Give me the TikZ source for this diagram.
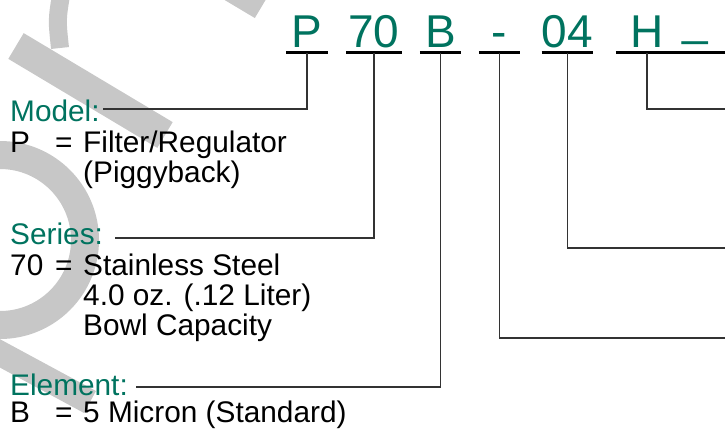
\documentclass[tikz,border=0pt]{standalone}
\usepackage{fontspec}
\setmainfont{Liberation Sans}
\usepackage{xcolor}
\definecolor{codegreen}{RGB}{0,115,95}

\begin{document}
\begin{tikzpicture}[x=1pt, y=-1pt,
    code/.style={text=codegreen, font=\fontsize{46}{46}\selectfont, anchor=base, text depth=0pt, inner xsep=0pt, inner ysep=5.3pt},
    head/.style={text=codegreen, font=\fontsize{29.8}{30}\selectfont, anchor=base west, inner sep=0pt},
    body/.style={font=\fontsize{29.8}{29.6}\selectfont, anchor=base west, inner sep=0pt},
    under/.style={line width=3.3pt},
    lead/.style={line width=1.1pt, draw=black!80},
    wm/.style={draw=black!22, line width=28pt}]
    \useasboundingbox (0,0) rectangle (725,429);

    % Watermark strokes
    \draw[wm] (0,240) circle[radius=85];
    \draw[wm, line width=30pt] (16,46) -- (165,135);
    \draw[wm, line width=18pt] (61,-5) .. controls (57,20) .. (60,48);
    \draw[wm] (210,-25) -- (262,6);
    \draw[wm, line width=25pt] (-10,348) -- (90,402);

    % Model code
    \node[code, minimum width=40.7pt] (cP)  at (307,47)   {P};
    \node[code, minimum width=55pt]   (c70) at (374,47)   {70};
    \node[code, minimum width=40.7pt] (cB)  at (440.5,47) {B};
    \node[code, minimum width=40.7pt] (cD)  at (499.5,47) {-};
    \node[code, minimum width=46.7pt] (c04) at (567.5,47) {04};
    \node[code, minimum width=62pt]   (cH)  at (647,47)   {H};
    \node[code, minimum width=90pt]   (cU)  at (695,47)   {\raisebox{12pt}{\_}};

    % Underlines
    \draw[under] (cP.south west) -- (cP.south east);
    \draw[under] (c70.south west) -- (c70.south east);
    \draw[under] (cB.south west) -- (cB.south east);
    \draw[under] (cD.south west) -- (cD.south east);
    \draw[under] (c04.south west) -- (c04.south east);
    \draw[under] (cH.south west) -- (cU.south east);

    % Left labels
    \node[head] (mdl) at (10,121.5) {Model:};
    \node[body] (mdlT) at (10,152) {\begin{tabular}[t]{@{}p{45pt}@{}p{28pt}@{}l@{}}
        P & = & Filter/Regulator\\
          &   & (Piggyback)
      \end{tabular}};
    \node[head] (ser) at (10,244) {Series:};
    \node[body] (serT) at (10,275) {\begin{tabular}[t]{@{}p{45pt}@{}p{28pt}@{}l@{}}
        70 & = & Stainless Steel\\
           &   & 4.0 oz. (.12 Liter)\\
           &   & Bowl Capacity
      \end{tabular}};
    \node[head] (elm) at (10,395) {Element:};
    \node[body] (elmT) at (10,422) {\begin{tabular}[t]{@{}p{45pt}@{}p{28pt}@{}l@{}}
        B & = & 5 Micron (Standard)
      \end{tabular}};

    % Right ends
    \coordinate (rH)  at (740,109);
    \coordinate (r04) at (740,248);
    \coordinate (rD)  at (740,338);

    % Leads
    \draw[lead] (cP.south) |- ([xshift=3pt, yshift=12.5pt]mdl.base east);
    \draw[lead] (c70.south) |- ([xshift=12pt, yshift=6pt]ser.base east);
    \draw[lead] (cB.south) |- ([xshift=8pt, yshift=8pt]elm.base east);
    \draw[lead] (cD.south) |- (rD);
    \draw[lead] (c04.south) |- (r04);
    \draw[lead] (cH.south) |- (rH);
\end{tikzpicture}
\end{document}
